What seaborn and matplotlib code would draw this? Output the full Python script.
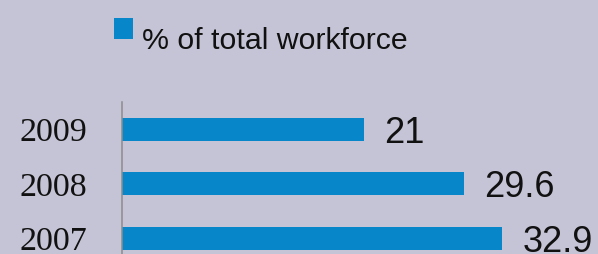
import matplotlib
matplotlib.use("Agg")
import matplotlib.pyplot as plt
from matplotlib.patches import Rectangle
import seaborn as sns
import pandas as pd

# Data
years = ["2009", "2008", "2007"]
values = [21, 29.6, 32.9]
value_labels = ["21", "29.6", "32.9"]
legend_label = "% of total workforce"

BG = "#c5c4d6"
BAR = "#0787c9"
W, H = 598, 254

sns.set_theme(style="white")
plt.rcParams["font.family"] = ["Liberation Sans", "DejaVu Sans"]

fig = plt.figure(figsize=(W / 100, H / 100), dpi=100)
fig.patch.set_facecolor(BG)

slot = 54.5
ax_top = 102
ax_h = slot * len(years)
ax = fig.add_axes([121.5 / W, 1 - (ax_top + ax_h) / H, 462.8 / W, ax_h / H])
ax.set_facecolor(BG)

df = pd.DataFrame({"year": years, "value": values})
sns.barplot(data=df, x="value", y="year", order=years, orient="h",
            color=BAR, saturation=1, width=0.42, ax=ax, linewidth=0)

ax.set_xlim(0, 40)
ax.set_ylim(len(years) - 0.5, -0.5)
ax.set_xlabel("")
ax.set_ylabel("")
ax.xaxis.set_visible(False)
for s in ["top", "right", "bottom"]:
    ax.spines[s].set_visible(False)
ax.spines["left"].set_color("#8c8c8c")
ax.spines["left"].set_linewidth(1.1)

ax.tick_params(axis="y", length=0, pad=25)
for t in ax.get_yticklabels():
    t.set_fontfamily(["Liberation Serif", "DejaVu Serif"])
    t.set_fontsize(24.5)
    t.set_color("#111111")

texts = ax.bar_label(ax.containers[0], labels=value_labels, padding=14.5,
                     fontsize=26, color="#111111")
for t in texts:
    t.set_va("center_baseline")

# Legend (manual)
fig.add_artist(Rectangle((114 / W, 1 - 39 / H), 19 / W, 21 / H,
                         transform=fig.transFigure, facecolor=BAR,
                         edgecolor="none"))
fig.text(142 / W, 1 - 49 / H, legend_label, fontsize=21.8, color="#111111",
         ha="left", va="baseline")

fig.savefig("out.png", dpi=100, facecolor=BG)
